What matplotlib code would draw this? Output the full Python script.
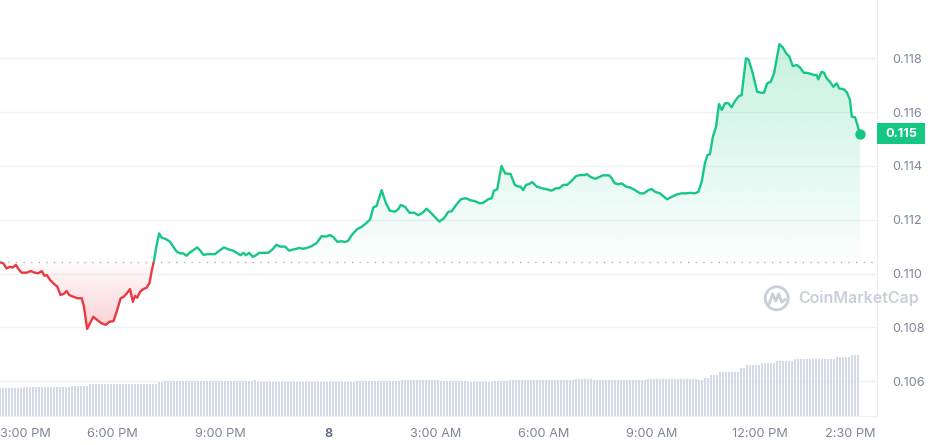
import matplotlib
matplotlib.use("Agg")
import matplotlib.pyplot as plt
import matplotlib.transforms as mtransforms
from matplotlib.patches import Rectangle, Polygon, Circle
from matplotlib.lines import Line2D
import numpy as np

plt.rcParams['font.family'] = ['Inter', 'DejaVu Sans']

# ---------------- data ----------------
# time in hours since midnight of the 7th (24 = midnight of the 8th)
hours = [14.89, 14.98, 15.07, 15.17, 15.24, 15.33, 15.40, 15.49, 15.63, 15.74,
         15.86, 15.95, 16.05, 16.12, 16.19, 16.28, 16.37, 16.48, 16.57, 16.67,
         16.74, 16.81, 16.92, 17.04, 17.16, 17.22, 17.31, 17.39, 17.48, 17.59,
         17.71, 17.83, 17.93, 18.04, 18.13, 18.24, 18.33, 18.41, 18.50, 18.58,
         18.64, 18.70, 18.78, 18.87, 18.96, 19.04, 19.10, 19.17, 19.24, 19.31,
         19.38, 19.50, 19.61, 19.70, 19.80, 19.89, 19.98, 20.07, 20.17, 20.26,
         20.37, 20.44, 20.54, 20.65, 20.81, 20.86, 21.00, 21.11, 21.23, 21.37,
         21.46, 21.57, 21.65, 21.72, 21.81, 21.91, 22.00, 22.09, 22.22, 22.34,
         22.46, 22.57, 22.67, 22.81, 22.92, 23.06, 23.20, 23.30, 23.41, 23.55,
         23.69, 23.82, 23.94, 24.06, 24.15, 24.26, 24.38, 24.47, 24.56, 24.66,
         24.80, 24.94, 25.06, 25.17, 25.26, 25.35, 25.49, 25.61, 25.72, 25.86,
         25.95, 26.02, 26.14, 26.26, 26.39, 26.51, 26.63, 26.74, 26.92, 27.09,
         27.22, 27.34, 27.44, 27.56, 27.69, 27.83, 27.94, 28.08, 28.22, 28.31,
         28.45, 28.55, 28.61, 28.70, 28.82, 28.92, 29.07, 29.19, 29.29, 29.35,
         29.42, 29.50, 29.59, 29.67, 29.80, 29.94, 30.08, 30.21, 30.33, 30.42,
         30.53, 30.65, 30.77, 30.89, 31.00, 31.14, 31.19, 31.28, 31.42, 31.56,
         31.63, 31.81, 31.88, 31.97, 32.06, 32.16, 32.28, 32.39, 32.53, 32.67,
         32.78, 32.90, 32.99, 33.08, 33.22, 33.42, 33.55, 33.69, 33.82, 33.96,
         34.06, 34.19, 34.29, 34.38, 34.47, 34.54, 34.61, 34.69, 34.78, 34.86,
         34.94, 35.03, 35.12, 35.21, 35.31, 35.42, 35.49, 35.61, 35.68, 35.80,
         35.92, 36.02, 36.11, 36.20, 36.30, 36.39, 36.54, 36.63, 36.74, 36.81,
         36.91, 37.02, 37.11, 37.22, 37.31, 37.41, 37.50, 37.57, 37.62, 37.71,
         37.78, 37.85, 37.94, 38.04, 38.13, 38.20, 38.33, 38.42, 38.50, 38.55,
         38.64, 38.78]

price = [0.11042, 0.11038, 0.11019, 0.11025, 0.11022, 0.11032, 0.11017, 0.11003, 0.11003, 0.11009,
         0.11003, 0.11001, 0.11009, 0.10992, 0.10994, 0.10976, 0.10964, 0.10951, 0.10920, 0.10925,
         0.10935, 0.10920, 0.10914, 0.10908, 0.10908, 0.10877, 0.10794, 0.10815, 0.10839, 0.10827,
         0.10815, 0.10809, 0.10821, 0.10823, 0.10858, 0.10908, 0.10914, 0.10926, 0.10942, 0.10895,
         0.10917, 0.10910, 0.10932, 0.10942, 0.10947, 0.10964, 0.11007, 0.11050, 0.11106, 0.11149,
         0.11133, 0.11128, 0.11118, 0.11100, 0.11081, 0.11075, 0.11075, 0.11066, 0.11079, 0.11087,
         0.11097, 0.11087, 0.11069, 0.11072, 0.11072, 0.11072, 0.11087, 0.11097, 0.11090, 0.11085,
         0.11077, 0.11068, 0.11077, 0.11068, 0.11077, 0.11062, 0.11068, 0.11077, 0.11077, 0.11077,
         0.11090, 0.11107, 0.11100, 0.11100, 0.11085, 0.11090, 0.11095, 0.11092, 0.11095, 0.11102,
         0.11114, 0.11139, 0.11137, 0.11143, 0.11135, 0.11118, 0.11120, 0.11117, 0.11122, 0.11143,
         0.11164, 0.11174, 0.11187, 0.11201, 0.11246, 0.11251, 0.11310, 0.11261, 0.11233, 0.11230,
         0.11239, 0.11255, 0.11248, 0.11226, 0.11226, 0.11217, 0.11226, 0.11241, 0.11217, 0.11193,
         0.11205, 0.11229, 0.11232, 0.11255, 0.11276, 0.11280, 0.11273, 0.11269, 0.11261, 0.11263,
         0.11276, 0.11280, 0.11308, 0.11313, 0.11400, 0.11372, 0.11370, 0.11329, 0.11323, 0.11323,
         0.11310, 0.11329, 0.11333, 0.11340, 0.11323, 0.11317, 0.11313, 0.11308, 0.11317, 0.11317,
         0.11329, 0.11330, 0.11345, 0.11362, 0.11366, 0.11366, 0.11370, 0.11360, 0.11352, 0.11360,
         0.11365, 0.11365, 0.11354, 0.11335, 0.11332, 0.11335, 0.11323, 0.11320, 0.11310, 0.11298,
         0.11298, 0.11310, 0.11314, 0.11304, 0.11298, 0.11276, 0.11285, 0.11294, 0.11298, 0.11298,
         0.11300, 0.11298, 0.11304, 0.11341, 0.11410, 0.11440, 0.11444, 0.11508, 0.11546, 0.11630,
         0.11608, 0.11633, 0.11633, 0.11618, 0.11642, 0.11660, 0.11663, 0.11800, 0.11796, 0.11744,
         0.11676, 0.11672, 0.11672, 0.11707, 0.11713, 0.11744, 0.11853, 0.11841, 0.11816, 0.11808,
         0.11771, 0.11775, 0.11766, 0.11746, 0.11746, 0.11742, 0.11738, 0.11738, 0.11722, 0.11750,
         0.11746, 0.11726, 0.11713, 0.11694, 0.11707, 0.11688, 0.11685, 0.11672, 0.11645, 0.11583,
         0.11581, 0.11519]

open_price = 0.11042          # 24h open (dotted reference line)
last_price_label = "0.115"

# 24h volume, read as step levels (start hour of each level, level in M)
vol_start_hours = [14.89, 15.50, 16.83, 17.33, 19.25, 19.47, 21.92, 22.00, 23.78, 24.75,
                   26.00, 27.11, 27.81, 28.56, 29.00, 30.86, 31.33, 32.81, 34.25, 34.47,
                   34.61, 34.83, 35.44, 35.58, 36.00, 36.42, 36.97, 38.08, 38.50]
vol_levels = [27.4, 29.0, 29.7, 31.4, 33.4, 34.7, 35.7, 34.0, 33.4, 34.7,
              35.7, 34.7, 33.4, 34.4, 35.4, 36.4, 35.4, 36.4, 35.7, 38.0,
              40.7, 44.0, 47.4, 50.7, 52.4, 54.7, 56.4, 58.4, 60.7]

ytick_vals = [0.106, 0.108, 0.110, 0.112, 0.114, 0.116, 0.118]
xtick_hours = [15, 18, 21, 24, 27, 30, 33, 36, 38.5]
xtick_labels = ['3:00 PM', '6:00 PM', '9:00 PM', '8', '3:00 AM', '6:00 AM',
                '9:00 AM', '12:00 PM', '2:30 PM']

# ---------------- style ----------------
GREEN = '#16c784'
RED = '#ea3943'
GRID = '#eff2f5'
TXT = '#7d879a'
VOLC = '#d3d9e5'

hours_a = np.array(hours)
price_a = np.array(price)

fig = plt.figure(figsize=(9.31, 4.45), dpi=100)
ax = fig.add_axes([0.0, 0.0658, 877 / 931, 1 - 0.0658])
ax2 = ax.twinx()
ax.set_zorder(ax2.get_zorder() - 1)
ax.patch.set_visible(True)
ax.patch.set_facecolor('white')
ax2.patch.set_visible(False)

xlo, xhi = 14.889, 39.25
ylo, yhi = 0.104714, 0.120167

# volume bars
bar_hours = np.arange(hours[0], hours[-1] + 1e-6, 5 / 60)
idx = np.searchsorted(vol_start_hours, bar_hours, side='right') - 1
vols = np.array(vol_levels)[idx]
ax2.bar(bar_hours, vols, width=(5 / 60) * 0.68, color=VOLC, align='center', linewidth=0)
ax2.set_ylim(0, max(vol_levels) * 6.85)
ax2.set_yticks([])
for s in ax2.spines.values():
    s.set_visible(False)

# gradient fill between line and open
n = 500
pv = np.linspace(ylo, yhi, n)
rgba = np.zeros((n, 2, 4))
g = matplotlib.colors.to_rgb(GREEN)
r = matplotlib.colors.to_rgb(RED)
above = pv >= open_price
rgba[above, :, :3] = g
rgba[~above, :, :3] = r
a_g = np.clip(0.015 + 28 * (pv - open_price), 0, 0.3)
a_r = np.clip(0.02 + 85 * (open_price - pv), 0, 0.25)
rgba[:, :, 3] = np.where(above, a_g, a_r)[:, None]
im = ax.imshow(rgba, extent=[xlo, xhi, ylo, yhi], origin='lower', aspect='auto',
               zorder=1, interpolation='bilinear')
verts = [(hours[0], open_price)] + list(zip(hours, price)) + [(hours[-1], open_price)]
poly = Polygon(verts, closed=True, transform=ax.transData, facecolor='none', edgecolor='none')
im.set_clip_path(poly)

# price line split at open price
ln_g, = ax.plot(hours_a, price_a, color=GREEN, lw=1.7, zorder=3, solid_joinstyle='round')
ln_r, = ax.plot(hours_a, price_a, color=RED, lw=1.7, zorder=3, solid_joinstyle='round')
clip_up = Rectangle((xlo - 5, open_price), 50, 1, transform=ax.transData)
clip_dn = Rectangle((xlo - 5, open_price - 1), 50, 1, transform=ax.transData)
ln_g.set_clip_path(clip_up)
ln_r.set_clip_path(clip_dn)

ax.plot([hours[-1]], [price[-1]], 'o', ms=6.5, color=GREEN, zorder=4, clip_on=False)

# open line
ax.axhline(open_price, color='#a9b2c3', lw=1.0, ls=(0, (1, 4.5)), zorder=2)

ax.set_xlim(xlo, xhi)
ax.set_ylim(ylo, yhi)

# axes styling
ax.yaxis.tick_right()
ax.set_yticks(ytick_vals)
ax.set_yticklabels([f"{v:.3f}" for v in ytick_vals])
ax.yaxis.grid(True, color=GRID, lw=1.0)
ax.set_axisbelow(True)
ax.tick_params(axis='y', length=0, pad=11, labelsize=9.2, labelcolor=TXT)
ax.set_xticks(xtick_hours)
ax.set_xticklabels(xtick_labels)
ax.tick_params(axis='x', length=0, pad=9, labelsize=9.2, labelcolor=TXT)
for lab in ax.get_xticklabels():
    if lab.get_text() == '8':
        lab.set_color('#58667e')
        lab.set_fontweight('semibold')
first = ax.get_xticklabels()[0]
first.set_horizontalalignment('left')
first.set_transform(first.get_transform() + mtransforms.ScaledTranslation(-4 / 100, 0, fig.dpi_scale_trans))

for k in ['top', 'left']:
    ax.spines[k].set_visible(False)
ax.spines['right'].set_color('#e9edf2')
ax.spines['bottom'].set_color('#eff2f5')

# last price label box
trans = mtransforms.blended_transform_factory(ax.transAxes, ax.transData)
bw = 48 / 877
bh = 21 / 26900
ax.add_patch(Rectangle((1.0, price[-1] - bh / 2), bw, bh, transform=trans,
                       color=GREEN, clip_on=False, zorder=5, linewidth=0))
ax.text(1.0 + bw / 2, price[-1], last_price_label, transform=trans, ha='center', va='center',
        color='white', fontsize=9.2, fontweight='bold', clip_on=False, zorder=6)

# watermark
WM = '#c8ceda'
fig.text(798 / 931, 1 - 298 / 445, 'CoinMarketCap', fontsize=11.5, fontweight='semibold',
         color=WM, ha='left', va='center')
cx, cy = 7.767, 4.45 - 2.983
fig.add_artist(Circle((cx, cy), 0.115, fill=False, lw=2.0, edgecolor=WM,
                      transform=fig.dpi_scale_trans))
wx = np.array([-0.075, -0.04, -0.01, 0.02, 0.05, 0.085])
wy = np.array([-0.055, 0.045, -0.03, 0.045, -0.04, -0.01])
fig.add_artist(Line2D(cx + wx, cy + wy, color=WM, lw=2.0, transform=fig.dpi_scale_trans,
                      solid_joinstyle='round', solid_capstyle='round'))

fig.savefig('out.png', dpi=100)
